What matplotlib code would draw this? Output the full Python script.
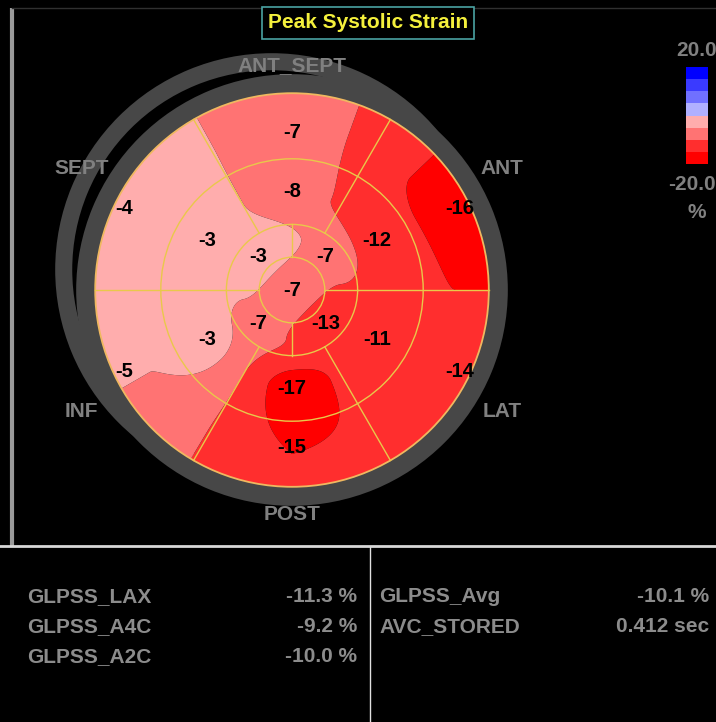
import numpy as np
import matplotlib
matplotlib.use("Agg")
from matplotlib import pyplot as plt
from matplotlib.colors import ListedColormap, BoundaryNorm
from matplotlib.patches import Circle, Wedge

# Peak systolic strain (%) for the 17 segment bull's eye.
# Angles in degrees, counter-clockwise from 3 o'clock.
wall_names = ["ANT_SEPT", "ANT", "LAT", "POST", "INF", "SEPT"]
wall_angles = [90, 30, -30, -90, -150, 150]
basal_values = [-7, -16, -14, -15, -5, -4]
mid_values = [-8, -12, -11, -17, -3, -3]
apical_angles = [45, -45, -135, 135]
apical_values = [-7, -13, -7, -3]
apex_value = -7

glpss_names = ["GLPSS_LAX", "GLPSS_A4C", "GLPSS_A2C"]
glpss_values = ["-11.3 %", "-9.2 %", "-10.0 %"]
summary_names = ["GLPSS_Avg", "AVC_STORED"]
summary_values = ["-10.1 %", "0.412 sec"]

scale_bounds = [-20, -15, -10, -5, 0, 5, 10, 15, 20]
scale_colors = ["#ff0000", "#ff2e2e", "#ff7373", "#ffadad",
                "#b0b0ff", "#7070ff", "#3a3aff", "#0000ff"]

FONT = "Liberation Sans"
GRAY_TEXT = "#808080"
PANEL_TEXT = "#8c8c8c"
RING_GRAY = "#474747"
GRID_YELLOW = "#e9c84a"

cmap = ListedColormap(scale_colors)
norm = BoundaryNorm(scale_bounds, cmap.N)


def ring_profile(angles, values, theta):
    # periodic monotone cubic (pchip style) around one ring of equally spaced segments
    a = np.mod(np.asarray(angles, float), 360)
    order = np.argsort(a)
    a = a[order]
    v = np.asarray(values, float)[order]
    n = len(a)
    d = np.roll(v, -1) - v
    d_prev = np.roll(d, 1)
    with np.errstate(divide="ignore", invalid="ignore"):
        m = np.where(d * d_prev > 0, 2.0 / (1.0 / d + 1.0 / d_prev), 0.0)
    pos = np.mod(theta - a[0], 360) / (360.0 / n)
    i = np.floor(pos).astype(int) % n
    t = pos - np.floor(pos)
    j = (i + 1) % n
    h00 = 2 * t ** 3 - 3 * t ** 2 + 1
    h10 = t ** 3 - 2 * t ** 2 + t
    h01 = -2 * t ** 3 + 3 * t ** 2
    h11 = t ** 3 - t ** 2
    return h00 * v[i] + h10 * m[i] + h01 * v[j] + h11 * m[j]


fig = plt.figure(figsize=(7.16, 7.22), dpi=100, facecolor="black")

# Canvas in pixel units for the frame, title and the text panel
canvas = fig.add_axes([0, 0, 1, 1])
canvas.set_xlim(0, 716)
canvas.set_ylim(722, 0)
canvas.axis("off")

canvas.plot([12, 12], [8, 546], color="#9a9a9a", lw=3, solid_capstyle="butt")
canvas.plot([12, 716], [8, 8], color="#303030", lw=1)
canvas.plot([0, 716], [546, 546], color="#d8d8d8", lw=2)
canvas.plot([370, 370], [547, 722], color="#e0e0e0", lw=1)

canvas.text(368, 23, "Peak Systolic Strain", ha="center", va="center",
            color="#f4f03c", fontsize=15, fontweight="bold", family=FONT,
            bbox=dict(boxstyle="square,pad=0.3", fc="black", ec="#4aa3a3", lw=1.2))

# Bottom text panel
row_y = [597, 627, 657]
panel_kw = dict(va="center", color=PANEL_TEXT, fontsize=15, fontweight="bold", family=FONT)
for name, val, y in zip(glpss_names, glpss_values, row_y):
    canvas.text(27, y, name, ha="left", **panel_kw)
    canvas.text(357, y, val, ha="right", **panel_kw)
for name, val, y in zip(summary_names, summary_values, row_y):
    canvas.text(379, y, name, ha="left", **panel_kw)
    canvas.text(709, y, val, ha="right", **panel_kw)

# Colour scale
cb = fig.add_axes([686 / 716, 1 - 164 / 722, 22 / 716, 97 / 722])
band_mid = [(lo + hi) / 2 for lo, hi in zip(scale_bounds[:-1], scale_bounds[1:])]
cb.pcolormesh([0, 1], scale_bounds, np.array(band_mid).reshape(-1, 1), cmap=cmap, norm=norm)
cb.axis("off")
cb_kw = dict(va="center", color=GRAY_TEXT, fontsize=15, fontweight="bold", family=FONT)
canvas.text(676, 50, f"{scale_bounds[-1]:.1f}", ha="left", **cb_kw)
canvas.text(668, 185, f"{scale_bounds[0]:.1f}", ha="left", **cb_kw)
canvas.text(697, 213, "%", ha="center", **cb_kw)

# Bull's eye, one unit = apex radius (about 33 px)
ax = fig.add_axes([46 / 716, 1 - 536 / 722, 492 / 716, 492 / 722])
ax.set_xlim(-7.5, 7.5)
ax.set_ylim(-7.5, 7.5)
ax.set_aspect("equal")
ax.axis("off")

ring_edges = [1, 2, 4, 6]
node_r = np.array([0, 1.5, 3, 5])

# outer grey rings (one slightly shifted up-left, as on the scanner screen)
ax.add_patch(Wedge((-0.62, 0.62), 6.6, 0, 360, width=0.52, color=RING_GRAY, lw=0))
ax.add_patch(Wedge((0, 0), 6.58, 0, 360, width=0.6, color=RING_GRAY, lw=0))

n = 700
xs = np.linspace(-6.1, 6.1, n)
X, Y = np.meshgrid(xs, xs)
R = np.hypot(X, Y)
T = np.degrees(np.arctan2(Y, X)) % 360
profiles = np.stack([
    np.full_like(T, apex_value, dtype=float),
    ring_profile(apical_angles, apical_values, T),
    ring_profile(wall_angles, mid_values, T),
    ring_profile(wall_angles, basal_values, T),
])
rr = np.clip(R, 0, node_r[-1])
k = np.clip(np.searchsorted(node_r, rr, side="right") - 1, 0, len(node_r) - 2)
w = (rr - node_r[k]) / (node_r[k + 1] - node_r[k])
w = w * w * (3 - 2 * w)
Z = (np.take_along_axis(profiles, k[None], 0)[0] * (1 - w)
     + np.take_along_axis(profiles, (k + 1)[None], 0)[0] * w)

disk = Circle((0, 0), ring_edges[-1], transform=ax.transData, fc="none", ec="none")
ax.add_patch(disk)
cs = ax.contourf(X, Y, Z, levels=scale_bounds, cmap=cmap, norm=norm, antialiased=True)
cs.set_clip_path(disk)

# segment borders
for r in ring_edges[:-1]:
    ax.add_patch(Circle((0, 0), r, fill=False, ec=GRID_YELLOW, lw=1))
ax.add_patch(Circle((0, 0), ring_edges[-1], fill=False, ec="#f0b860", lw=1.3))
for a in [0, 90, 180, 270]:
    t = np.radians(a)
    ax.plot([np.cos(t), 2 * np.cos(t)], [np.sin(t), 2 * np.sin(t)], color=GRID_YELLOW, lw=1)
for a in range(0, 360, 60):
    t = np.radians(a)
    ax.plot([2 * np.cos(t), 6 * np.cos(t)], [2 * np.sin(t), 6 * np.sin(t)], color=GRID_YELLOW, lw=1)

# segment values
seg_kw = dict(ha="center", va="center", color="black", fontsize=14.5, fontweight="bold", family=FONT)
ax.text(0, 0, f"{apex_value}", **seg_kw)
for a, v in zip(apical_angles, apical_values):
    t = np.radians(a)
    ax.text(1.45 * np.cos(t), 1.45 * np.sin(t), f"{v}", **seg_kw)
for a, v in zip(wall_angles, mid_values):
    t = np.radians(a)
    ax.text(3.0 * np.cos(t), 3.0 * np.sin(t), f"{v}", **seg_kw)
for a, v in zip(wall_angles, basal_values):
    if a in (90, -90):
        rl, t = 4.8, np.radians(a)
    else:
        # side segments are labelled further out, nearer the horizontal
        rl, t = 5.7, np.radians(a - np.sign(np.sin(np.radians(a))) * 4 * np.sign(np.cos(np.radians(a))))
    ax.text(rl * np.cos(t), rl * np.sin(t), f"{v}", **seg_kw)

# wall names
for a, name in zip(wall_angles, wall_names):
    t = np.radians(a)
    rl = 6.85 if a in (90, -90) else 7.4
    ax.text(rl * np.cos(t), rl * np.sin(t), name, ha="center", va="center",
            color=GRAY_TEXT, fontsize=15, fontweight="bold", family=FONT)

fig.savefig("out.png", dpi=100, facecolor="black")
